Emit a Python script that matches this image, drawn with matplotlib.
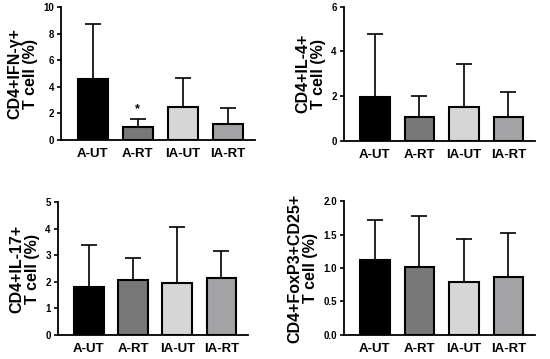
import matplotlib
matplotlib.use("Agg")
import matplotlib.pyplot as plt

plt.rcParams['font.family'] = ['Liberation Sans', 'DejaVu Sans']
plt.rcParams['font.weight'] = 'bold'

groups = ["A-UT", "A-RT", "IA-UT", "IA-RT"]
colors = ["#000000", "#787878", "#d6d6d6", "#a3a3a6"]

ifng_mean = [4.6, 1.0, 2.5, 1.2]
ifng_top = [8.7, 1.6, 4.7, 2.4]
il4_mean = [1.95, 1.05, 1.5, 1.05]
il4_top = [4.8, 2.0, 3.45, 2.2]
il17_mean = [1.82, 2.08, 1.95, 2.15]
il17_top = [3.4, 2.88, 4.05, 3.15]
treg_mean = [1.12, 1.02, 0.79, 0.87]
treg_top = [1.71, 1.78, 1.44, 1.53]

panels = [
    dict(mean=ifng_mean, top=ifng_top, label="CD4+IFN-γ+\nT cell (%)", ylim=10, ticks=[0, 2, 4, 6, 8, 10], fmt="{:g}",
         pos=[0.111, 0.610, 0.353, 0.370]),
    dict(mean=il4_mean, top=il4_top, label="CD4+IL-4+\nT cell (%)", ylim=6, ticks=[0, 2, 4, 6], fmt="{:g}",
         pos=[0.625, 0.608, 0.348, 0.373]),
    dict(mean=il17_mean, top=il17_top, label="CD4+IL-17+\nT cell (%)", ylim=5, ticks=[0, 1, 2, 3, 4, 5], fmt="{:g}",
         pos=[0.105, 0.067, 0.346, 0.370]),
    dict(mean=treg_mean, top=treg_top, label="CD4+FoxP3+CD25+\nT cell (%)", ylim=2.0, ticks=[0, 0.5, 1.0, 1.5, 2.0], fmt="{:.1f}",
         pos=[0.625, 0.067, 0.348, 0.373]),
]

fig = plt.figure(figsize=(5.5, 3.59), dpi=100)
x = list(range(len(groups)))
for i, p in enumerate(panels):
    ax = fig.add_axes(p["pos"])
    up = [t - m for t, m in zip(p["top"], p["mean"])]
    ax.errorbar(x, p["mean"], yerr=[[0] * 4, up], fmt="none", ecolor="black",
                elinewidth=1.2, capsize=6, capthick=1.2, zorder=1)
    ax.bar(x, p["mean"], width=0.67, color=colors, edgecolor="black", linewidth=1.5, zorder=2)
    ax.set_xlim(-0.7, 3.6)
    ax.set_ylim(0, p["ylim"])
    ax.set_yticks(p["ticks"])
    ax.set_yticklabels([p["fmt"].format(t) for t in p["ticks"]], fontsize=7, fontweight="bold")
    ax.set_xticks(x)
    ax.set_xticklabels(groups, fontsize=9.5, fontweight="bold")
    ax.tick_params(axis="x", length=0, pad=6)
    ax.tick_params(axis="y", length=3, width=1.2, pad=2)
    for s in ["top", "right"]:
        ax.spines[s].set_visible(False)
    for s in ["left", "bottom"]:
        ax.spines[s].set_linewidth(1.3)
    ax.set_ylabel(p["label"], fontsize=11.5, fontweight="bold", labelpad=4, linespacing=1.0)
    if i == 0:
        ax.text(1, 2.3, "*", ha="center", va="center", fontsize=9, fontweight="bold")

fig.savefig("out.png", dpi=100)
